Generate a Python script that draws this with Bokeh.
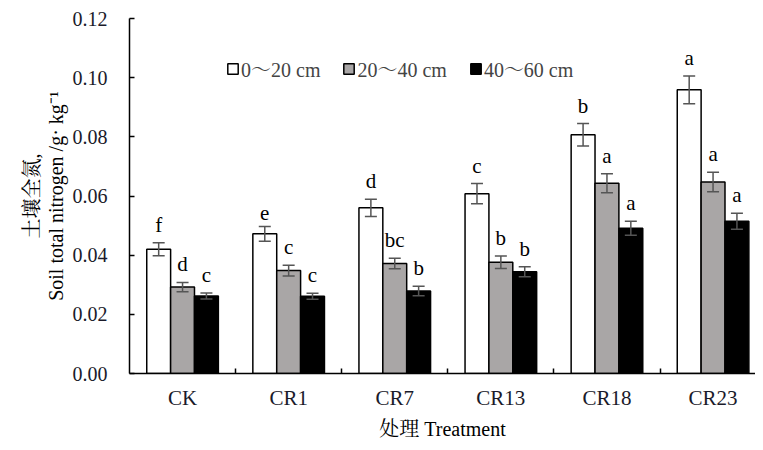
from bokeh.plotting import figure
from bokeh.models import Range1d, FixedTicker, ColumnDataSource, Whisker, TeeHead, NumeralTickFormatter
from bokeh.embed import file_html
from bokeh.resources import INLINE
from bokeh.core.properties import value

treatments = ["CK", "CR1", "CR7", "CR13", "CR18", "CR23"]
depths = ["0～20 cm", "20～40 cm", "40～60 cm"]
n_0_20 = [0.0420, 0.0472, 0.0560, 0.0608, 0.0807, 0.0959]
n_20_40 = [0.0292, 0.0348, 0.0372, 0.0376, 0.0643, 0.0647]
n_40_60 = [0.0262, 0.0261, 0.0279, 0.0344, 0.0491, 0.0515]
err_0_20 = [0.0022, 0.0025, 0.0029, 0.0034, 0.0038, 0.0047]
err_20_40 = [0.0016, 0.0018, 0.0018, 0.0021, 0.0032, 0.0033]
err_40_60 = [0.0010, 0.0010, 0.0016, 0.0017, 0.0024, 0.0027]
sig_0_20 = ["f", "e", "d", "c", "b", "a"]
sig_20_40 = ["d", "c", "bc", "b", "a", "a"]
sig_40_60 = ["c", "c", "b", "b", "a", "a"]
y_ticks = [0.00, 0.02, 0.04, 0.06, 0.08, 0.10, 0.12]

FONT = "'Liberation Serif', 'Noto Serif CJK SC', 'Noto Sans CJK SC', serif"
FS = "20px"

p = figure(width=755, height=442, output_backend="svg", toolbar_location=None,
           x_range=Range1d(0, 5.9), y_range=Range1d(0, 0.12),
           min_border_left=129, min_border_top=18, min_border_right=0, min_border_bottom=60)
p.xgrid.visible = False
p.ygrid.visible = False
p.outline_line_color = None
p.background_fill_color = "white"
p.border_fill_color = "white"

series = [
    (n_0_20, err_0_20, sig_0_20, depths[0], "white", -0.225),
    (n_20_40, err_20_40, sig_20_40, depths[1], "#a9a6a6", 0.0),
    (n_40_60, err_40_60, sig_40_60, depths[2], "black", 0.225),
]
for vals, errs, sigs, lab, col, off in series:
    xs = [i + 0.5 + off for i in range(len(treatments))]
    src = ColumnDataSource(dict(
        x=xs, top=vals,
        upper=[v + e for v, e in zip(vals, errs)],
        lower=[v - e for v, e in zip(vals, errs)],
        sig=sigs,
    ))
    p.vbar(x="x", top="top", bottom=0, width=0.225, source=src, fill_color=col,
           line_color="black", line_width=1.5, legend_label=lab)
    w = Whisker(source=src, base="x", upper="upper", lower="lower",
                line_color="#555555", line_width=1.5, level="overlay",
                upper_head=TeeHead(size=12, line_color="#555555", line_width=1.5),
                lower_head=TeeHead(size=12, line_color="#555555", line_width=1.5))
    p.add_layout(w)
    p.text(x="x", y="upper", text="sig", source=src, text_align="center",
           text_baseline="bottom", y_offset=-6, text_font=value(FONT),
           text_font_size="21px", text_color="black")

# y axis
ya = p.yaxis[0]
ya.ticker = FixedTicker(ticks=y_ticks, minor_ticks=[])
ya.formatter = NumeralTickFormatter(format="0.00")
ya.major_tick_in = 5
ya.major_tick_out = 0
ya.minor_tick_in = 0
ya.minor_tick_out = 0
ya.axis_line_width = 1.5
ya.axis_line_color = "black"
ya.major_tick_line_width = 1.5
ya.major_label_text_font = FONT
ya.major_label_text_font_size = FS
ya.major_label_text_color = "#1a1a2a"
ya.major_label_standoff = 22
ya.axis_label = "土壤全氮,\nSoil total nitrogen /g· kg⁻¹"
ya.axis_label_text_font = FONT
ya.axis_label_text_font_style = "normal"
ya.axis_label_text_font_size = FS
ya.axis_label_text_color = "black"
ya.axis_label_text_line_height = 1.05
ya.axis_label_standoff = 3

# x axis
xa = p.xaxis[0]
centers = [i + 0.5 for i in range(len(treatments))]
bounds = [i for i in range(1, len(treatments))]
xa.ticker = FixedTicker(ticks=centers, minor_ticks=bounds)
xa.major_label_overrides = {c: t for c, t in zip(centers, treatments)}
xa.major_tick_in = 0
xa.major_tick_out = 0
xa.minor_tick_in = 5
xa.minor_tick_out = 0
xa.minor_tick_line_width = 1.5
xa.axis_line_width = 1.5
xa.axis_line_color = "black"
xa.major_label_text_font = FONT
xa.major_label_text_font_size = "21px"
xa.major_label_text_color = "#1a1a2a"
xa.major_label_standoff = 12
xa.axis_label = "处理 Treatment"
xa.axis_label_text_font = FONT
xa.axis_label_text_font_style = "normal"
xa.axis_label_text_font_size = FS
xa.axis_label_text_color = "black"
xa.axis_label_standoff = 5

lg = p.legend[0]
lg.orientation = "horizontal"
lg.location = (97, 290)
lg.background_fill_alpha = 0
lg.border_line_color = None
lg.glyph_width = 13
lg.glyph_height = 13
lg.label_standoff = 2
lg.spacing = 22
lg.padding = 0
lg.margin = 0
lg.label_text_font = FONT
lg.label_text_font_size = FS
lg.label_height = 18

open("out.html", "w").write(file_html(p, INLINE))
